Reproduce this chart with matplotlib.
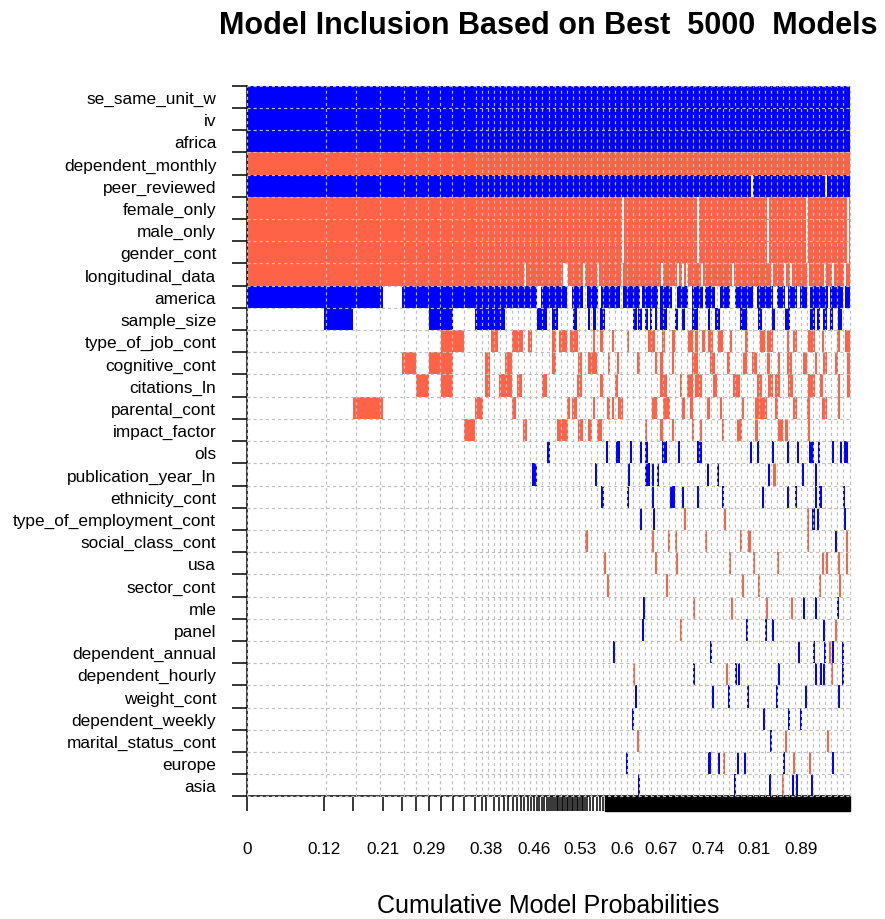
import numpy as np
import matplotlib
matplotlib.use("Agg")
import matplotlib.pyplot as plt
from matplotlib.patches import Rectangle

plt.rcParams['font.family'] = ['Liberation Sans', 'DejaVu Sans']
plt.rcParams['lines.scale_dashes'] = False

N_MODELS = 5000
POS, NEG = 1, -1

variables = [
    "se_same_unit_w", "iv", "africa", "dependent_monthly", "peer_reviewed",
    "female_only", "male_only", "gender_cont", "longitudinal_data", "america",
    "sample_size", "type_of_job_cont", "cognitive_cont", "citations_ln",
    "parental_cont", "impact_factor", "ols", "publication_year_ln",
    "ethnicity_cont", "type_of_employment_cont", "social_class_cont", "usa",
    "sector_cont", "mle", "panel", "dependent_annual", "dependent_hourly",
    "weight_cont", "dependent_weekly", "marital_status_cont", "europe", "asia",
]

# cumulative posterior probability at the edges of the leading models
model_bounds = [
    0.0, 0.1265, 0.1757, 0.2246, 0.2561, 0.2794, 0.3015, 0.3214, 0.3409,
    0.3601, 0.3779, 0.3900, 0.3957, 0.4095, 0.4178, 0.4261, 0.4327, 0.4405,
    0.4472, 0.4538, 0.4593, 0.4654, 0.4709, 0.4759, 0.4804, 0.4847, 0.4887,
    0.4925, 0.4970, 0.5008, 0.5042, 0.5080, 0.5108, 0.5136, 0.5163, 0.5191,
    0.5219, 0.5246, 0.5274, 0.5302, 0.5329, 0.5357, 0.5385, 0.5412, 0.5440,
    0.5468, 0.5495, 0.5523, 0.5551, 0.5578, 0.5606, 0.5635, 0.5689, 0.5744,
    0.5801, 0.5855, 0.5900,
]
# past this point the remaining models are too narrow to tell apart
tail_start = 0.594

xlabel_pos = [0.0, 0.1265, 0.2246, 0.3015, 0.3957, 0.4759, 0.5523,
              0.6221, 0.6869, 0.7650, 0.8414, 0.9195]
xlabel_text = ["0", "0.12", "0.21", "0.29", "0.38", "0.46", "0.53",
               "0.6", "0.67", "0.74", "0.81", "0.89"]


def fill_except(sign, gaps):
    """Segments covering [0, 1] except the listed gaps."""
    segs, start = [], 0.0
    for a, b in gaps:
        segs.append((start, a, sign))
        start = b
    segs.append((start, 1.0, sign))
    return segs


# inclusion segments per variable: (from, to, sign of coefficient)
se_same_unit_w = [(0.0, 1.0, POS)]
iv = [(0.0, 1.0, POS)]
africa = [(0.0, 1.0, POS)]
dependent_monthly = [(0.0, 1.0, NEG)]
peer_reviewed_gaps = [(0.8360, 0.8395), (0.9593, 0.9626)]
sex_gaps = [(0.6225, 0.6250), (0.7475, 0.7500), (0.8635, 0.8660),
            (0.9285, 0.9310), (0.9962, 0.9987)]
longitudinal_gaps = [
    (0.4600, 0.4625), (0.5241, 0.5316), (0.5580, 0.5605), (0.5812, 0.5837),
    (0.6212, 0.6237), (0.6876, 0.6901), (0.7141, 0.7166), (0.7224, 0.7249),
    (0.7291, 0.7316), (0.7540, 0.7565), (0.8055, 0.8080), (0.8703, 0.8728),
    (0.8919, 0.8944), (0.9018, 0.9043), (0.9301, 0.9326), (0.9583, 0.9608),
    (0.9716, 0.9741), (0.9915, 0.9940),
]
america_gaps = [
    (0.2246, 0.2561), (0.4809, 0.4875), (0.5307, 0.5390), (0.5573, 0.5640),
    (0.5822, 0.5872), (0.6188, 0.6238), (0.6520, 0.6553), (0.6819, 0.6852),
    (0.7051, 0.7134), (0.7317, 0.7384), (0.7567, 0.7600), (0.7766, 0.7849),
    (0.8015, 0.8098), (0.8397, 0.8463), (0.8729, 0.8796), (0.8929, 0.8979),
    (0.9128, 0.9178), (0.9294, 0.9344), (0.9643, 0.9676), (0.9892, 0.9925),
]
sample_size = [(a, b, POS) for a, b in [
    (0.1265, 0.1757), (0.3015, 0.3409), (0.3779, 0.4278), (0.4809, 0.4975),
    (0.5058, 0.5158), (0.5407, 0.5473), (0.5656, 0.5689), (0.5739, 0.5789),
    (0.5855, 0.5939), (0.6404, 0.6470), (0.6487, 0.6553), (0.6603, 0.6653),
    (0.6686, 0.6719), (0.6769, 0.6802), (0.6852, 0.6968), (0.7101, 0.7151),
    (0.7218, 0.7267), (0.7384, 0.7483), (0.7650, 0.7683), (0.7766, 0.7849),
    (0.8181, 0.8297), (0.8480, 0.8546), (0.8713, 0.8763), (0.8929, 0.9012),
    (0.9344, 0.9427), (0.9460, 0.9510), (0.9560, 0.9626), (0.9676, 0.9726),
    (0.9809, 0.9875)]]
type_of_job_cont = [(a, b, NEG) for a, b in [
    (0.3214, 0.3601), (0.4045, 0.4161), (0.4389, 0.4576), (0.4659, 0.4726),
    (0.5058, 0.5125), (0.5174, 0.5307), (0.5357, 0.5490), (0.5739, 0.5772),
    (0.5855, 0.5905), (0.6055, 0.6080), (0.6304, 0.6337), (0.6653, 0.6769),
    (0.6886, 0.6935), (0.7051, 0.7101), (0.7317, 0.7400), (0.7434, 0.7483),
    (0.7550, 0.7600), (0.7650, 0.7733), (0.7816, 0.7899), (0.8015, 0.8040),
    (0.8264, 0.8314), (0.8513, 0.8596), (0.8630, 0.8729), (0.8962, 0.8990),
    (0.9061, 0.9128), (0.9311, 0.9427), (0.9543, 0.9568), (0.9792, 0.9842),
    (0.9925, 1.0)]]
cognitive_cont = [(a, b, NEG) for a, b in [
    (0.2561, 0.2794), (0.3015, 0.3409), (0.3945, 0.4028), (0.4278, 0.4394),
    (0.5058, 0.5125), (0.5490, 0.5556), (0.5656, 0.5806), (0.5988, 0.6022),
    (0.6138, 0.6163), (0.6470, 0.6520), (0.6769, 0.6802), (0.6852, 0.6902),
    (0.7051, 0.7076), (0.7384, 0.7483), (0.7683, 0.7766), (0.7965, 0.8015),
    (0.8231, 0.8297), (0.8381, 0.8463), (0.8630, 0.8680), (0.8812, 0.8846),
    (0.8962, 0.9045), (0.9228, 0.9294), (0.9427, 0.9460), (0.9560, 0.9626),
    (0.9759, 0.9809), (0.9958, 1.0)]]
citations_ln = [(a, b, NEG) for a, b in [
    (0.2794, 0.3015), (0.3214, 0.3409), (0.3945, 0.4028), (0.4178, 0.4394),
    (0.4477, 0.4560), (0.4892, 0.4975), (0.5473, 0.5556), (0.5855, 0.5905),
    (0.6105, 0.6155), (0.6852, 0.6968), (0.7184, 0.7218), (0.7301, 0.7400),
    (0.7434, 0.7550), (0.7733, 0.7799), (0.8065, 0.8181), (0.8463, 0.8546),
    (0.8646, 0.8729), (0.8763, 0.8846), (0.8979, 0.9061), (0.9311, 0.9427),
    (0.9510, 0.9560), (0.9809, 0.9842), (0.9958, 1.0)]]
parental_cont = [(a, b, NEG) for a, b in [
    (0.1757, 0.2246), (0.3779, 0.3912), (0.4394, 0.4460), (0.5307, 0.5357),
    (0.5390, 0.5473), (0.5739, 0.5772), (0.5972, 0.6022), (0.6055, 0.6080),
    (0.6155, 0.6238), (0.6719, 0.6802), (0.6902, 0.7018), (0.7218, 0.7267),
    (0.7350, 0.7400), (0.7633, 0.7683), (0.7849, 0.7882), (0.8214, 0.8248),
    (0.8430, 0.8630), (0.8763, 0.8812), (0.9061, 0.9128), (0.9294, 0.9344),
    (0.9543, 0.9626), (0.9809, 0.9842)]]
impact_factor = [(a, b, NEG) for a, b in [
    (0.3601, 0.3779), (0.4576, 0.4643), (0.5141, 0.5324), (0.5490, 0.5573),
    (0.5656, 0.5722), (0.5806, 0.5889), (0.6603, 0.6636), (0.6852, 0.6902),
    (0.7051, 0.7084), (0.7384, 0.7410), (0.7517, 0.7550), (0.7882, 0.7907),
    (0.8131, 0.8214), (0.8430, 0.8480), (0.8812, 0.8895), (0.8929, 0.8979),
    (0.9311, 0.9344)]]
ols = [(a, b, POS) for a, b in [
    (0.4975, 0.5025), (0.5955, 0.5988), (0.6121, 0.6188), (0.6354, 0.6387),
    (0.6520, 0.6545), (0.6603, 0.6653), (0.6886, 0.6968), (0.7151, 0.7176),
    (0.7467, 0.7550), (0.8347, 0.8381), (0.8463, 0.8488), (0.8713, 0.8738),
    (0.8962, 0.8987), (0.9128, 0.9161), (0.9327, 0.9411), (0.9477, 0.9510),
    (0.9709, 0.9734), (0.9842, 0.9875), (0.9909, 0.9975)]]
publication_year_ln = [
    (0.4726, 0.4809, POS), (0.5772, 0.5806, POS), (0.6321, 0.6354, POS),
    (0.6603, 0.6686, POS), (0.6719, 0.6745, POS), (0.6802, 0.6827, POS),
    (0.7633, 0.7658, POS), (0.7799, 0.7824, POS), (0.8646, 0.8680, POS),
    (0.8729, 0.8780, NEG), (0.9211, 0.9236, POS), (0.9427, 0.9452, POS)]
ethnicity_cont = [(a, b, POS) for a, b in [
    (0.5880, 0.5905), (0.6300, 0.6325), (0.6715, 0.6740), (0.7018, 0.7101),
    (0.7215, 0.7240), (0.7465, 0.7490), (0.7880, 0.7905), (0.8545, 0.8570),
    (0.8960, 0.8985), (0.9095, 0.9128), (0.9427, 0.9452), (0.9493, 0.9543),
    (0.9892, 0.9925)]]
type_of_employment_cont = [
    (0.6520, 0.6553, POS), (0.6736, 0.6769, POS), (0.7251, 0.7284, NEG),
    (0.7915, 0.7948, NEG), (0.9286, 0.9311, NEG), (0.9377, 0.9427, POS),
    (0.9460, 0.9485, POS), (0.9909, 0.9942, POS)]
social_class_cont = [
    (0.5606, 0.5656, NEG), (0.6715, 0.6740, NEG), (0.6985, 0.7010, NEG),
    (0.7101, 0.7134, NEG), (0.7600, 0.7633, NEG), (0.8181, 0.8214, NEG),
    (0.8314, 0.8364, NEG), (0.9290, 0.9315, NEG), (0.9759, 0.9792, POS),
    (0.9942, 0.9975, NEG)]
usa = [(a, b, NEG) for a, b in [
    (0.5922, 0.5955), (0.6769, 0.6802), (0.7118, 0.7151), (0.7998, 0.8032),
    (0.8397, 0.8430), (0.8796, 0.8821), (0.9543, 0.9568), (0.9610, 0.9643),
    (0.9809, 0.9834), (0.9942, 0.9975)]]
sector_cont = [(a, b, NEG) for a, b in [
    (0.5972, 0.6005), (0.6952, 0.6985), (0.8214, 0.8239), (0.8480, 0.8513),
    (0.9493, 0.9527), (0.9826, 0.9859)]]
mle = [
    (0.6570, 0.6603, POS), (0.7400, 0.7425, NEG), (0.8032, 0.8057, NEG),
    (0.8613, 0.8646, NEG), (0.9028, 0.9053, NEG), (0.9228, 0.9261, POS),
    (0.9427, 0.9452, POS), (0.9792, 0.9826, POS)]
panel = [
    (0.6553, 0.6578, POS), (0.7184, 0.7218, NEG), (0.8281, 0.8306, POS),
    (0.8596, 0.8630, POS), (0.8713, 0.8746, POS), (0.9560, 0.9585, POS),
    (0.9759, 0.9792, NEG)]
dependent_annual = [
    (0.6071, 0.6096, POS), (0.7683, 0.7716, POS), (0.9145, 0.9178, POS),
    (0.9394, 0.9427, POS), (0.9576, 0.9610, POS), (0.9659, 0.9693, NEG),
    (0.9709, 0.9742, POS), (0.9875, 0.9900, POS)]
dependent_hourly = [
    (0.6404, 0.6437, NEG), (0.7400, 0.7434, POS), (0.7948, 0.7982, NEG),
    (0.8098, 0.8131, POS), (0.8148, 0.8181, POS), (0.8812, 0.8846, POS),
    (0.9427, 0.9460, POS), (0.9505, 0.9530, POS), (0.9560, 0.9593, POS),
    (0.9693, 0.9726, NEG), (0.9875, 0.9900, POS)]
weight_cont = [(a, b, POS) for a, b in [
    (0.6437, 0.6470), (0.7716, 0.7741), (0.7982, 0.8015), (0.8297, 0.8322),
    (0.8780, 0.8805), (0.9261, 0.9294), (0.9809, 0.9842)]]
dependent_weekly = [(a, b, POS) for a, b in [
    (0.6387, 0.6420), (0.8563, 0.8596), (0.8979, 0.9012), (0.9178, 0.9211)]]
marital_status_cont = [
    (0.6470, 0.6495, NEG), (0.8680, 0.8713, POS), (0.8929, 0.8962, NEG),
    (0.9626, 0.9651, NEG)]
europe = [
    (0.6288, 0.6321, POS), (0.7650, 0.7700, POS), (0.7816, 0.7849, POS),
    (0.7899, 0.7924, NEG), (0.8131, 0.8164, POS), (0.8248, 0.8281, POS),
    (0.8895, 0.8929, POS), (0.9061, 0.9095, NEG), (0.9327, 0.9361, NEG),
    (0.9709, 0.9734, POS)]
asia = [
    (0.6487, 0.6512, POS), (0.8081, 0.8115, POS), (0.8663, 0.8696, POS),
    (0.8879, 0.8904, NEG), (0.9045, 0.9070, POS), (0.9111, 0.9145, POS),
    (0.9361, 0.9394, POS)]

inclusion = [
    se_same_unit_w, iv, africa, dependent_monthly,
    fill_except(POS, peer_reviewed_gaps),
    fill_except(NEG, sex_gaps), fill_except(NEG, sex_gaps),
    fill_except(NEG, sex_gaps),
    fill_except(NEG, longitudinal_gaps),
    fill_except(POS, america_gaps),
    sample_size, type_of_job_cont, cognitive_cont, citations_ln,
    parental_cont, impact_factor, ols, publication_year_ln, ethnicity_cont,
    type_of_employment_cont, social_class_cont, usa, sector_cont, mle, panel,
    dependent_annual, dependent_hourly, weight_cont, dependent_weekly,
    marital_status_cont, europe, asia,
]

colors = {POS: "blue", NEG: "tomato"}
grid_color = "#BEBEBE"

W, H = 885, 920
fig = plt.figure(figsize=(W / 100, H / 100), dpi=100)
x0, x1, y0, y1 = 247.5, 849.5, 86.8, 797.4
ax = fig.add_axes([x0 / W, 1 - y1 / H, (x1 - x0) / W, (y1 - y0) / H])
n_rows = len(variables)
ax.set_xlim(0, 1)
ax.set_ylim(0, n_rows)

# inclusion blocks, top variable drawn highest
for i, segs in enumerate(inclusion):
    y = n_rows - 1 - i
    for sign in (POS, NEG):
        bars = [(a, max(b - a, 0.0034)) for a, b, s in segs if s == sign]
        if bars:
            ax.broken_barh(bars, (y, 1), facecolors=colors[sign],
                           edgecolor="none", linewidth=0, antialiased=False,
                           zorder=1)

# axes and ticks
tick_len = 10.8
for side in ("top", "right"):
    ax.spines[side].set_visible(False)
for side in ("left", "bottom"):
    ax.spines[side].set_linewidth(1.1)
    ax.spines[side].set_zorder(3)

ax.set_xticks(model_bounds, minor=True)
ax.set_xticks(xlabel_pos, labels=xlabel_text)
ax.tick_params(axis="x", which="both", direction="out", length=tick_len,
               width=1.1, pad=21.5, labelsize=12.3)

ax.set_yticks(np.arange(n_rows + 1))
ax.set_yticks(np.arange(n_rows) + 0.5, minor=True)
ax.set_yticklabels([], minor=False)
ax.set_yticklabels(variables[::-1], minor=True)
ax.tick_params(axis="y", which="major", direction="out", length=tick_len,
               width=1.1)
ax.tick_params(axis="y", which="minor", length=0, pad=22.5, labelsize=12.4)

# the remaining models' ticks merge into a solid band
band_h = tick_len / 72 * 100 / ((y1 - y0))
ax.add_patch(Rectangle((tail_start, -band_h), 1 - tail_start, band_h,
                       transform=ax.get_xaxis_transform(), color="black",
                       clip_on=False, zorder=3))

# dotted grid at rounded model edges and row boundaries
grid_x = np.unique(np.concatenate([
    np.round(model_bounds, 2),
    np.round(np.arange(np.round(tail_start, 2), 1.0001, 0.01), 2),
]))
ax.vlines(grid_x, 0, n_rows, colors=grid_color, linewidth=0.85,
          linestyles=[(0, (2.2, 2.2))], zorder=4, clip_on=False)
ax.hlines(np.arange(n_rows + 1), 0, 1, colors=grid_color, linewidth=0.85,
          linestyles=[(0, (2.2, 2.2))], zorder=4, clip_on=False)

fig.text(548 / W, 1 - 26 / H,
         f"Model Inclusion Based on Best  {N_MODELS}  Models",
         ha="center", va="center", fontsize=22, fontweight="bold")
fig.text(548 / W, 1 - 906 / H, "Cumulative Model Probabilities",
         ha="center", va="center", fontsize=18)

fig.savefig("out.png", dpi=100, facecolor="white")
